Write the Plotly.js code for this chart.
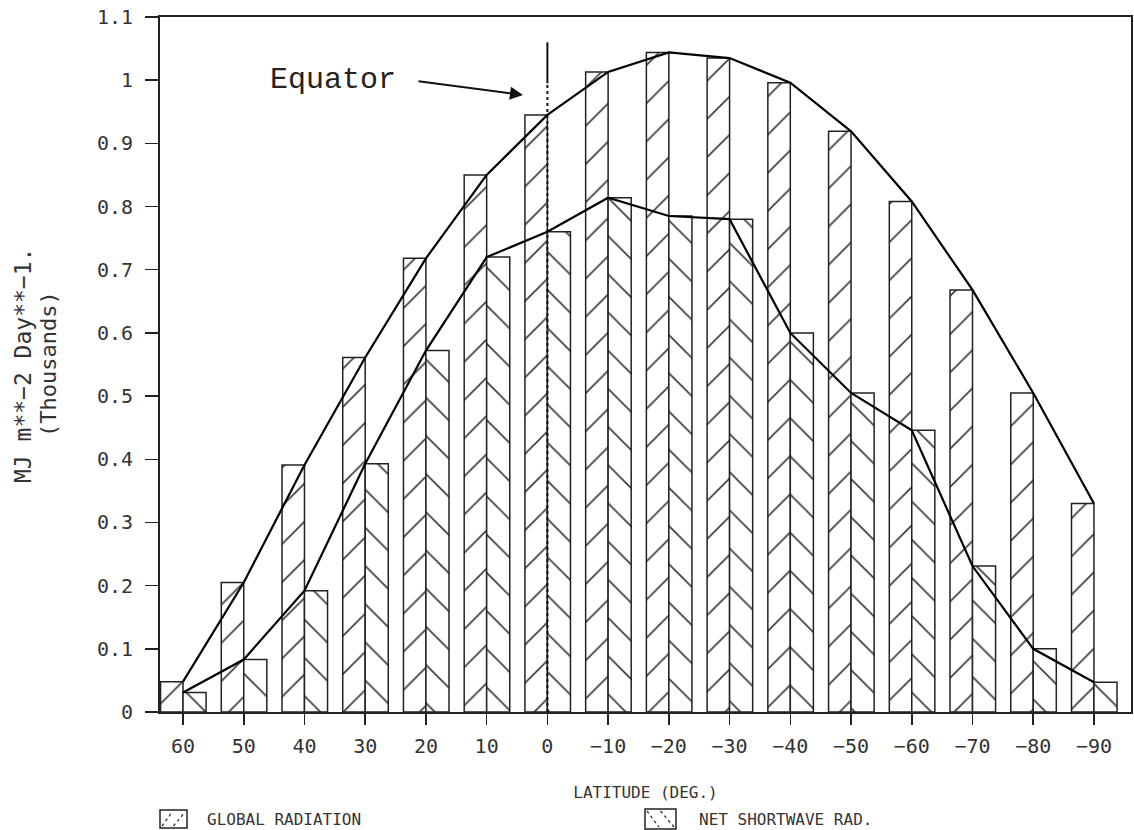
<!DOCTYPE html>
<html>
<head>
<meta charset="utf-8">
<script src="https://cdn.plot.ly/plotly-3.0.1.min.js"></script>
<style>
  html, body { margin: 0; padding: 0; background: #ffffff; }
  #chart { width: 1134px; height: 830px; }
</style>
</head>
<body>
<div id="chart"></div>
<script>
// Latitude categories (degrees), as labelled on the x axis
const latitudes = ["60", "50", "40", "30", "20", "10", "0", "\u221210", "\u221220", "\u221230",
                   "\u221240", "\u221250", "\u221260", "\u221270", "\u221280", "\u221290"];
// Global radiation (thousands of MJ m**-2 day**-1)
const globalRad = [0.048, 0.205, 0.391, 0.561, 0.718, 0.850, 0.945, 1.013, 1.044, 1.035,
                   0.996, 0.919, 0.808, 0.668, 0.505, 0.330];
// Net shortwave radiation (thousands of MJ m**-2 day**-1)
const netSW = [0.031, 0.083, 0.192, 0.393, 0.572, 0.720, 0.760, 0.814, 0.785, 0.780,
               0.600, 0.505, 0.446, 0.231, 0.100, 0.047];
const seriesNames = ["GLOBAL RADIATION", "NET SHORTWAVE RAD."];
const equatorLabel = "0";

const ink = "#222222";
const hatch = "#3a3a3a";
const textFont = "DejaVu Sans Mono, Liberation Mono, monospace";

// plot frame (pixels) -> paper fractions for layout-only decorations
const M = { l: 160, r: 3, t: 17, b: 118 };
const W = 1134, H = 830;
const pw = W - M.l - M.r, ph = H - M.t - M.b;
const px = p => (p - M.l) / pw;
const py = p => (H - M.b - p) / ph;

const traces = [
  {
    type: "bar", name: seriesNames[0],
    x: latitudes, y: globalRad,
    width: 0.37, offset: -0.37,
    marker: {
      color: "#ffffff",
      line: { color: ink, width: 1.5 },
      pattern: { shape: "/", fgcolor: hatch, bgcolor: "#ffffff", size: 27, solidity: 0.06 }
    },
    showlegend: false
  },
  {
    type: "bar", name: seriesNames[1],
    x: latitudes, y: netSW,
    width: 0.38, offset: 0,
    marker: {
      color: "#ffffff",
      line: { color: ink, width: 1.5 },
      pattern: { shape: "\\", fgcolor: hatch, bgcolor: "#ffffff", size: 27, solidity: 0.06 }
    },
    showlegend: false
  },
  {
    type: "scatter", mode: "lines", name: seriesNames[0] + " (curve)",
    x: latitudes, y: globalRad,
    line: { color: "#000000", width: 2.2 },
    showlegend: false
  },
  {
    type: "scatter", mode: "lines", name: seriesNames[1] + " (curve)",
    x: latitudes, y: netSW,
    line: { color: "#000000", width: 2.2 },
    showlegend: false
  }
];

// legend swatches drawn as boxes with hatch strokes
function swatch(x0, x1, y0, y1, dir) {
  const shapes = [{
    type: "rect", xref: "paper", yref: "paper",
    x0: px(x0), x1: px(x1), y0: py(y1), y1: py(y0),
    line: { color: ink, width: 1.5 }, fillcolor: "#ffffff"
  }];
  const w = x1 - x0;
  const segs = [[x0 + 2, x0 + w * 0.45], [x0 + w * 0.5, x1 - 2]];
  segs.forEach(([a, b]) => {
    const pts = dir === "/" ? [[a, y1 - 2], [b, y0 + 2]] : [[a, y0 + 2], [b, y1 - 2]];
    shapes.push({
      type: "line", xref: "paper", yref: "paper",
      x0: px(pts[0][0]), y0: py(pts[0][1]), x1: px(pts[1][0]), y1: py(pts[1][1]),
      line: { color: "#333333", width: 1.3, dash: "dot" }
    });
  });
  return shapes;
}

const eqIdx = latitudes.indexOf(equatorLabel);

const layout = {
  width: W, height: H,
  margin: { l: M.l, r: M.r, t: M.t, b: M.b, autoexpand: false },
  paper_bgcolor: "#ffffff", plot_bgcolor: "#ffffff",
  barmode: "overlay",
  showlegend: false,
  font: { family: textFont, color: "#333333" },
  xaxis: {
    type: "category",
    range: [-0.379, 15.61],
    tickmode: "array", tickvals: latitudes, ticktext: latitudes,
    ticks: "outside", ticklen: 11, tickwidth: 1.5, tickcolor: ink,
    showline: true, linecolor: ink, linewidth: 2, mirror: true,
    showgrid: false, zeroline: false, automargin: false,
    tickfont: { family: textFont, size: 20, color: "#333333" },
    ticklabelstandoff: 4,
    title: { text: "LATITUDE (DEG.)", font: { family: textFont, size: 16, color: "#333333" }, standoff: 30 }
  },
  yaxis: {
    range: [0, 1.1],
    tickmode: "linear", tick0: 0, dtick: 0.1,
    ticks: "outside", ticklen: 13, tickwidth: 1.5, tickcolor: ink,
    showline: true, linecolor: ink, linewidth: 2, mirror: true,
    showgrid: false, zeroline: false, automargin: false,
    tickfont: { family: textFont, size: 20, color: "#333333" },
    ticklabelstandoff: 8
  },
  shapes: [
    { type: "line", xref: "x", yref: "y", x0: eqIdx, x1: eqIdx, y0: 0.995, y1: 1.06,
      line: { color: "#111111", width: 2 } },
    { type: "line", xref: "x", yref: "y", x0: eqIdx, x1: eqIdx, y0: 0, y1: 0.995,
      line: { color: "#111111", width: 2, dash: "dot" } }
  ].concat(swatch(160, 187, 810, 828, "/"), swatch(645, 676, 809, 829, "\\")),
  annotations: [
    { text: "Equator", xref: "paper", yref: "paper", x: px(333), y: py(80),
      xanchor: "center", yanchor: "middle", showarrow: false,
      font: { family: "Courier New, Liberation Mono, monospace", size: 30, color: "#222222" } },
    { text: "", xref: "paper", yref: "paper", x: px(523), y: py(95),
      showarrow: true, ax: -106, ay: -14, axref: "pixel", ayref: "pixel",
      arrowhead: 2, arrowsize: 1.3, arrowwidth: 2, arrowcolor: "#111111" },
    { text: "MJ m**\u22122 Day**\u22121.", xref: "paper", yref: "paper", x: px(23), y: py(366),
      xanchor: "center", yanchor: "middle", textangle: -90, showarrow: false,
      font: { family: textFont, size: 23, color: "#333333" } },
    { text: "(Thousands)", xref: "paper", yref: "paper", x: px(48), y: py(364),
      xanchor: "center", yanchor: "middle", textangle: -90, showarrow: false,
      font: { family: textFont, size: 22, color: "#333333" } },
    { text: seriesNames[0], xref: "paper", yref: "paper", x: px(205), y: py(819),
      xanchor: "left", yanchor: "middle", showarrow: false,
      font: { family: textFont, size: 16, color: "#333333" } },
    { text: seriesNames[1], xref: "paper", yref: "paper", x: px(697), y: py(819),
      xanchor: "left", yanchor: "middle", showarrow: false,
      font: { family: textFont, size: 16, color: "#333333" } }
  ]
};

Plotly.newPlot("chart", traces, layout, { displayModeBar: false, staticPlot: true });
</script>
</body>
</html>
